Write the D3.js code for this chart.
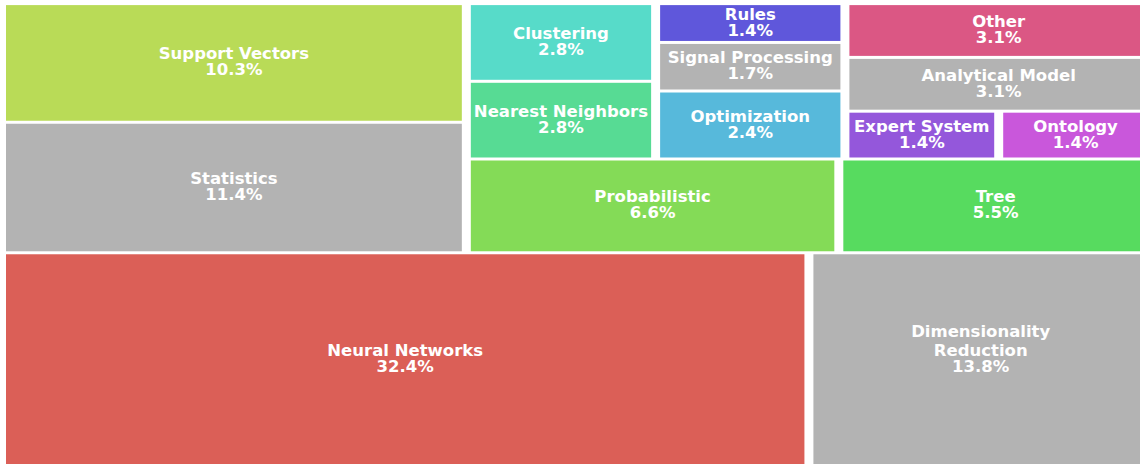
<!DOCTYPE html>
<html>
<head>
<meta charset="utf-8">
<script src="https://cdn.jsdelivr.net/npm/d3@7"></script>
<style>
  html, body { margin: 0; padding: 0; background: #ffffff; overflow: hidden; }
  svg { display: block; }
</style>
</head>
<body>
<svg id="chart" width="1140" height="464"></svg>
<script>
// ---- data (order as laid out in the reference) ----
const categories = [
  "Neural Networks", "Dimensionality Reduction", "Statistics", "Support Vectors",
  "Probabilistic", "Tree", "Nearest Neighbors", "Clustering", "Optimization",
  "Signal Processing", "Rules", "Expert System", "Ontology", "Analytical Model", "Other"
];
// counts implied by the printed shares (n = 290): 32.4%, 13.8%, 11.4%, 10.3%, ...
const counts = [94, 40, 33, 30, 19, 16, 8, 8, 7, 5, 4, 4, 4, 9, 9];
const greyCategories = ["Dimensionality Reduction", "Statistics", "Signal Processing", "Analytical Model"];

// ---- geometry ----
const VW = 1000, VH = 1200;            // normalised canvas on which squarify decides
const X0 = 1.5, W = 1151, Y0 = 3.6, H = 463.2;
const padX = 4.5, padY = 1.5;
const fontSize = 16.5, nameLineGap = 19.5;

const total = d3.sum(counts);
const fmtPct = d3.format(".1%");

const root = d3.hierarchy({
  children: categories.map((name, i) => ({ name, value: counts[i], index: i }))
}).sum(d => d.value || 0);

d3.treemap()
  .tile(d3.treemapSquarify.ratio(1))
  .size([VW, VH])
  .round(false)(root);

const x = d3.scaleLinear().domain([0, VW]).range([X0, X0 + W]);
const y = d3.scaleLinear().domain([0, VH]).range([Y0 + H, Y0]);   // bottom-up, like matplotlib

const n = categories.length;
const color = d => greyCategories.includes(d.data.name)
  ? "#b3b3b3"
  : d3.hsl((0.01 + d.data.index / n) * 360, 0.65, 0.6).formatHex();

const svg = d3.select("#chart");
const leaves = root.leaves();

const g = svg.selectAll("g.cell").data(leaves).join("g").attr("class", "cell");

g.append("rect")
  .attr("x", d => x(d.x0) + padX)
  .attr("y", d => y(d.y1) + padY)
  .attr("width", d => x(d.x1) - x(d.x0) - 2 * padX)
  .attr("height", d => y(d.y0) - y(d.y1) - 2 * padY)
  .attr("fill", color);

function wrap(name) {
  if (name.length <= 20) return [name];
  const words = name.split(" ");
  const lines = [];
  let cur = "";
  words.forEach(w => {
    if (cur && (cur + " " + w).length > 20) { lines.push(cur); cur = w; }
    else cur = cur ? cur + " " + w : w;
  });
  if (cur) lines.push(cur);
  return lines;
}

g.each(function(d) {
  const cx = (x(d.x0) + x(d.x1)) / 2;
  const cy = (y(d.y0) + y(d.y1)) / 2;
  const lines = wrap(d.data.name);
  const sel = d3.select(this);
  lines.forEach((line, j) => {
    sel.append("text")
      .attr("x", cx)
      .attr("y", cy - 3.5 - (lines.length - 1 - j) * nameLineGap)
      .text(line);
  });
  sel.append("text")
    .attr("x", cx)
    .attr("y", cy + 12.5)
    .text(fmtPct(d.value / total));
});

svg.selectAll("text")
  .attr("text-anchor", "middle")
  .attr("fill", "#ffffff")
  .attr("font-family", "'DejaVu Sans', sans-serif")
  .attr("font-weight", "bold")
  .attr("font-size", fontSize);
</script>
</body>
</html>
